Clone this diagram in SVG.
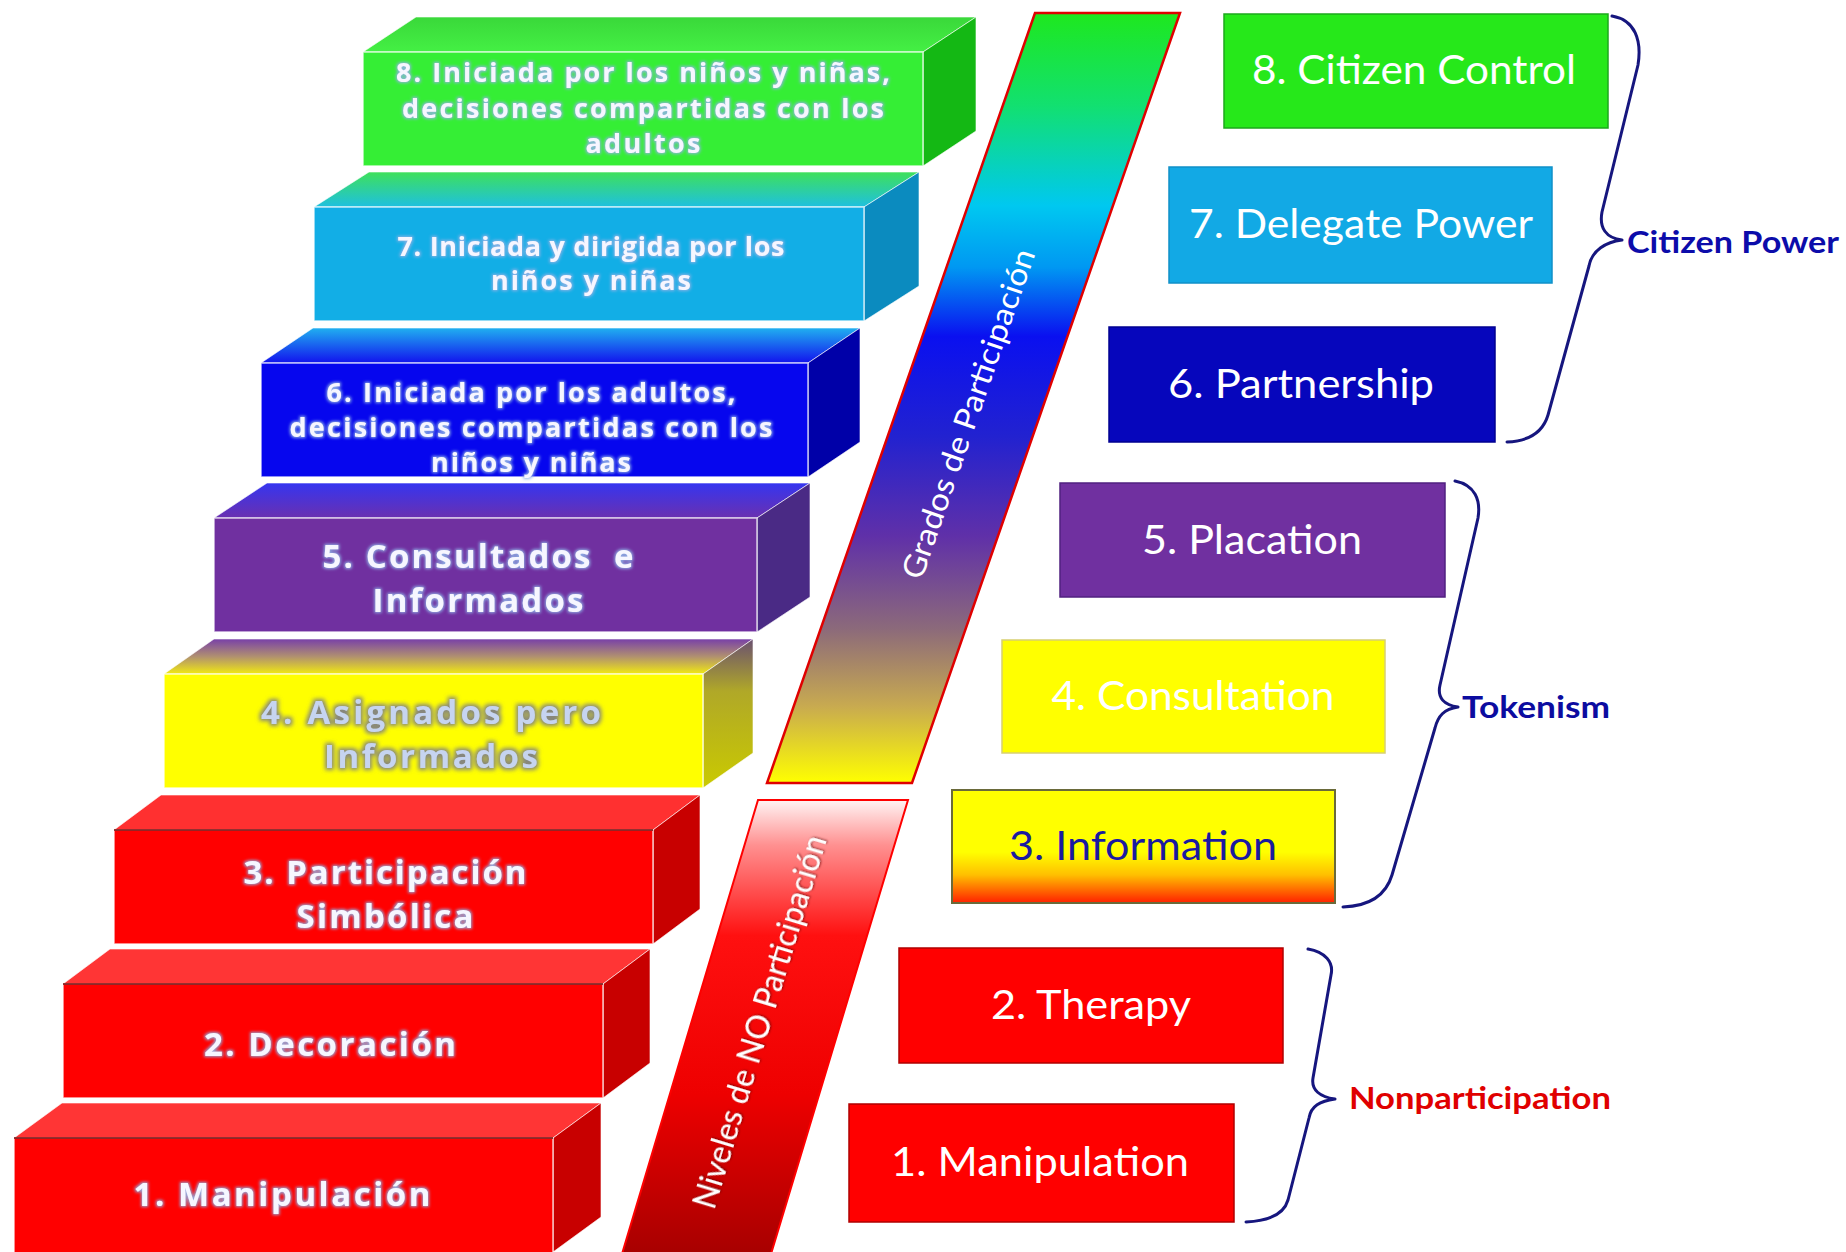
<svg xmlns="http://www.w3.org/2000/svg" width="1846" height="1252" viewBox="0 0 1846 1252">
<defs>
<style>
.st{font-family:"Open Sans",Lato,"Liberation Sans",sans-serif;font-weight:700;fill:#F6F6FF;text-anchor:middle;filter:url(#glow)}
.st8{font-size:27px}
.st5{font-size:33px}
.bt{font-family:Lato,"Open Sans","Liberation Sans",sans-serif;font-size:40px;fill:#FFFFFF;text-anchor:middle}
.lbl{font-family:Lato,"Open Sans","Liberation Sans",sans-serif;font-weight:700;font-size:30px}
.front{stroke:#FFFFFF;stroke-opacity:0.75;stroke-width:1.5}
.edge{stroke:#FFFFFF;stroke-opacity:0.6;stroke-width:1}
.brace{fill:none;stroke:#16167E;stroke-width:3;stroke-linecap:round;stroke-linejoin:round}
.bartxt{font-family:Lato,"Open Sans","Liberation Sans",sans-serif;fill:#FFFFFF;text-anchor:middle}
</style>
<filter id="glow" x="-10%" y="-40%" width="120%" height="180%">
<feMorphology in="SourceAlpha" operator="dilate" radius="1.2" result="d"/>
<feGaussianBlur in="d" stdDeviation="1.6" result="b"/>
<feFlood flood-color="#8FB2E6" flood-opacity="0.95"/>
<feComposite in2="b" operator="in" result="g"/>
<feMerge><feMergeNode in="g"/><feMergeNode in="SourceGraphic"/></feMerge>
</filter>
<filter id="glow4" x="-10%" y="-40%" width="120%" height="180%">
<feMorphology in="SourceAlpha" operator="dilate" radius="1.5" result="d"/>
<feGaussianBlur in="d" stdDeviation="2.2" result="b"/>
<feFlood flood-color="#7A7A8A" flood-opacity="0.9"/>
<feComposite in2="b" operator="in" result="g"/>
<feMerge><feMergeNode in="g"/><feMergeNode in="SourceGraphic"/></feMerge>
</filter>
<filter id="shadow" x="-10%" y="-40%" width="120%" height="180%">
<feGaussianBlur in="SourceAlpha" stdDeviation="1.2" result="b"/>
<feOffset in="b" dx="1" dy="1" result="o"/>
<feFlood flood-color="#600000" flood-opacity="0.7"/>
<feComposite in2="o" operator="in" result="g"/>
<feMerge><feMergeNode in="g"/><feMergeNode in="SourceGraphic"/></feMerge>
</filter>
<linearGradient id="top8" x1="0" y1="0" x2="0" y2="1"><stop offset="0" stop-color="#3AD83A"/><stop offset="1" stop-color="#44F044"/></linearGradient>
<linearGradient id="top7" x1="0" y1="0" x2="0" y2="1"><stop offset="0" stop-color="#3EE05A"/><stop offset="1" stop-color="#1EC0E0"/></linearGradient>
<linearGradient id="top6" x1="0" y1="0" x2="0" y2="1"><stop offset="0" stop-color="#20B0F0"/><stop offset="1" stop-color="#1212EE"/></linearGradient>
<linearGradient id="top5" x1="0" y1="0" x2="0" y2="1"><stop offset="0" stop-color="#3535F0"/><stop offset="1" stop-color="#6A30B0"/></linearGradient>
<linearGradient id="top4" x1="0" y1="0" x2="0" y2="1"><stop offset="0" stop-color="#7840A8"/><stop offset="0.5" stop-color="#B09070"/><stop offset="1" stop-color="#F2EA10"/></linearGradient>
<linearGradient id="side4" x1="0" y1="0" x2="0" y2="1"><stop offset="0" stop-color="#6A5070"/><stop offset="0.35" stop-color="#B0A828"/><stop offset="1" stop-color="#CACA00"/></linearGradient>
<linearGradient id="gUp" gradientUnits="userSpaceOnUse" x1="0" y1="13" x2="0" y2="783">
<stop offset="0" stop-color="#1EE81E"/>
<stop offset="0.12" stop-color="#12E070"/>
<stop offset="0.25" stop-color="#00C8F0"/>
<stop offset="0.33" stop-color="#0098F2"/>
<stop offset="0.42" stop-color="#0A10F0"/>
<stop offset="0.55" stop-color="#2222D0"/>
<stop offset="0.68" stop-color="#6030A8"/>
<stop offset="0.8" stop-color="#8C6A7A"/>
<stop offset="0.9" stop-color="#C8AA50"/>
<stop offset="1" stop-color="#FFFF00"/>
</linearGradient>
<linearGradient id="gLow" gradientUnits="userSpaceOnUse" x1="0" y1="800" x2="0" y2="1252">
<stop offset="0" stop-color="#FFF4F4"/>
<stop offset="0.1" stop-color="#FF9090"/>
<stop offset="0.3" stop-color="#FF1010"/>
<stop offset="0.65" stop-color="#EE0000"/>
<stop offset="1" stop-color="#A80000"/>
</linearGradient>
<linearGradient id="g3" x1="0" y1="0" x2="0" y2="1">
<stop offset="0" stop-color="#FFFF00"/>
<stop offset="0.55" stop-color="#FFFF00"/>
<stop offset="0.75" stop-color="#FFC000"/>
<stop offset="0.9" stop-color="#FF6000"/>
<stop offset="1" stop-color="#FF2000"/>
</linearGradient>
</defs>
<rect width="1846" height="1252" fill="#FFFFFF"/>

<!-- Steps -->
<g id="step8">
<polygon points="363,52 416,17 976,17 923,52" fill="url(#top8)" class="edge"/>
<polygon points="923,52 976,17 976,131 923,166" fill="#14B814" class="edge"/>
<rect x="363" y="52" width="560" height="114" fill="#35EE35" class="front"/>
<text class="st st8" x="643" y="82" textLength="494" lengthAdjust="spacing">8. Iniciada por los niños y niñas,</text>
<text class="st st8" x="643" y="118" textLength="482" lengthAdjust="spacing">decisiones compartidas con los</text>
<text class="st st8" x="643" y="153" textLength="115" lengthAdjust="spacing">adultos</text>
</g>
<g id="step7">
<polygon points="314,207 369,172 919,172 864,207" fill="url(#top7)" class="edge"/>
<polygon points="864,207 919,172 919,286 864,321" fill="#0B8BBF" class="edge"/>
<rect x="314" y="207" width="550" height="114" fill="#12AEE6" class="front"/>
<text class="st st8" x="591" y="256" textLength="387" lengthAdjust="spacing">7. Iniciada y dirigida por los</text>
<text class="st st8" x="591" y="290" textLength="200" lengthAdjust="spacing">niños y niñas</text>
</g>
<g id="step6">
<polygon points="261,363 313,328 860,328 808,363" fill="url(#top6)" class="edge"/>
<polygon points="808,363 860,328 860,442 808,477" fill="#0000A8" class="edge"/>
<rect x="261" y="363" width="547" height="114" fill="#0606EE" class="front"/>
<text class="st st8" x="531" y="402" textLength="409" lengthAdjust="spacing">6. Iniciada por los adultos,</text>
<text class="st st8" x="531" y="437" textLength="483" lengthAdjust="spacing">decisiones compartidas con los</text>
<text class="st st8" x="531" y="472" textLength="200" lengthAdjust="spacing">niños y niñas</text>
</g>
<g id="step5">
<polygon points="214,518 267,483 810,483 757,518" fill="url(#top5)" class="edge"/>
<polygon points="757,518 810,483 810,597 757,632" fill="#4A2A85" class="edge"/>
<rect x="214" y="518" width="543" height="114" fill="#7030A0" class="front"/>
<text class="st st5" x="478" y="568" textLength="311" lengthAdjust="spacing" xml:space="preserve">5. Consultados  e</text>
<text class="st st5" x="478" y="612" textLength="211" lengthAdjust="spacing">Informados</text>
</g>
<g id="step4">
<polygon points="164,674 214,639 753,639 703,674" fill="url(#top4)" class="edge"/>
<polygon points="703,674 753,639 753,753 703,788" fill="url(#side4)" class="edge"/>
<rect x="164" y="674" width="539" height="114" fill="#FFFF00" class="front" stroke="#C8C870"/>
<text class="st st5" x="431" y="724" textLength="340" lengthAdjust="spacing" style="fill:#C6D4F0;filter:url(#glow4)">4. Asignados pero</text>
<text class="st st5" x="431" y="768" textLength="214" lengthAdjust="spacing" style="fill:#C6D4F0;filter:url(#glow4)">Informados</text>
</g>
<g id="step3">
<polygon points="114,830 161,795 700,795 653,830" fill="#FF3030" class="edge"/>
<polygon points="653,830 700,795 700,909 653,944" fill="#C80000" class="edge"/>
<rect x="114" y="830" width="539" height="114" fill="#FF0000" class="front"/>
<line x1="114" y1="830" x2="653" y2="830" stroke="#700000" stroke-width="1.5"/>
<text class="st st5" x="385" y="884" textLength="283" lengthAdjust="spacing">3. Participación</text>
<text class="st st5" x="385" y="928" textLength="177" lengthAdjust="spacing">Simbólica</text>
</g>
<g id="step2">
<polygon points="63,984 110,949 650,949 603,984" fill="#FF3535" class="edge"/>
<polygon points="603,984 650,949 650,1063 603,1098" fill="#C80000" class="edge"/>
<rect x="63" y="984" width="540" height="114" fill="#FF0000" class="front"/>
<line x1="63" y1="984" x2="603" y2="984" stroke="#700000" stroke-width="1.5"/>
<text class="st st5" x="330" y="1056" textLength="252" lengthAdjust="spacing">2. Decoración</text>
</g>
<g id="step1">
<polygon points="14,1138 62,1103 601,1103 553,1138" fill="#FF3535" class="edge"/>
<polygon points="553,1138 601,1103 601,1217 553,1252" fill="#C80000" class="edge"/>
<rect x="14" y="1138" width="539" height="116" fill="#FF0000" class="front"/>
<line x1="14" y1="1138" x2="553" y2="1138" stroke="#700000" stroke-width="1.5"/>
<text class="st st5" x="282" y="1206" textLength="297" lengthAdjust="spacing">1. Manipulación</text>
</g>

<!-- Central bars -->
<g id="bar-grados">
<polygon points="1035,13 1180,13 912,783 767,783" fill="url(#gUp)" stroke="#E00000" stroke-width="2.5" stroke-linejoin="miter"/>
<text class="bartxt" transform="translate(969,414) rotate(-70.8)" x="0" y="10" font-size="31" textLength="347" lengthAdjust="spacingAndGlyphs">Grados de Participación</text>
</g>
<g id="bar-niveles">
<polygon points="758,800 908,800 771,1254 622,1254" fill="url(#gLow)" stroke="#FF0000" stroke-width="2"/>
<text class="bartxt" transform="translate(760,1022) rotate(-73.1)" x="0" y="11" font-size="32" textLength="388" lengthAdjust="spacingAndGlyphs" filter="url(#shadow)">Niveles de NO Participación</text>
</g>

<!-- Right boxes -->
<g id="box8">
<rect x="1224" y="14" width="384" height="114" fill="#26E81A" stroke="#1CA81C" stroke-width="1.5"/>
<text class="bt" x="1414" y="84" textLength="324" lengthAdjust="spacingAndGlyphs">8. Citizen Control</text>
</g>
<g id="box7">
<rect x="1169" y="167" width="383" height="116" fill="#12A9E5" stroke="#1090C8" stroke-width="1.5"/>
<text class="bt" x="1361" y="238" textLength="344" lengthAdjust="spacingAndGlyphs">7. Delegate Power</text>
</g>
<g id="box6">
<rect x="1109" y="327" width="386" height="115" fill="#0606BC" stroke="#000090" stroke-width="1.5"/>
<text class="bt" x="1301" y="398" textLength="266" lengthAdjust="spacingAndGlyphs">6. Partnership</text>
</g>
<g id="box5">
<rect x="1060" y="483" width="385" height="114" fill="#7030A0" stroke="#502080" stroke-width="1.5"/>
<text class="bt" x="1252" y="554" textLength="220" lengthAdjust="spacingAndGlyphs">5. Placation</text>
</g>
<g id="box4">
<rect x="1002" y="640" width="383" height="113" fill="#FFFF00" stroke="#D8D070" stroke-width="1.5"/>
<text class="bt" x="1193" y="710" textLength="283" lengthAdjust="spacingAndGlyphs">4. Consultation</text>
</g>
<g id="box3">
<rect x="952" y="790" width="383" height="113" fill="url(#g3)" stroke="#6A6A3A" stroke-width="2"/>
<text class="bt" x="1143" y="860" textLength="268" lengthAdjust="spacingAndGlyphs" style="fill:#1A1AA0">3. Information</text>
</g>
<g id="box2">
<rect x="899" y="948" width="384" height="115" fill="#FF0000" stroke="#B00000" stroke-width="1.5"/>
<text class="bt" x="1091" y="1019" textLength="200" lengthAdjust="spacingAndGlyphs">2. Therapy</text>
</g>
<g id="box1">
<rect x="849" y="1104" width="385" height="118" fill="#FF0000" stroke="#B00000" stroke-width="1.5"/>
<text class="bt" x="1040" y="1176" textLength="298" lengthAdjust="spacingAndGlyphs">1. Manipulation</text>
</g>

<!-- Braces -->
<g id="connectors">
<path class="brace" d="M1612,16 C1635,20 1642,40 1638,65 L1602,212 C1599,228 1606,238 1622,240 C1606,242 1592,250 1589,266 L1548,415 C1543,432 1530,441 1507,442"/>
<path class="brace" d="M1455,481 C1475,485 1481,500 1478,518 L1440,685 C1437,698 1444,705 1458,707 C1444,709 1438,716 1435,728 L1392,875 C1386,895 1370,906 1343,907"/>
<path class="brace" d="M1308,949 C1325,952 1334,962 1331,975 L1313,1078 C1311,1090 1320,1097 1335,1099 C1320,1101 1311,1106 1309,1118 L1288,1200 C1284,1214 1268,1221 1246,1222"/>
</g>
<g id="label-citizen-power"><text class="lbl" x="1627" y="253" fill="#0C0CAA" textLength="212" lengthAdjust="spacingAndGlyphs">Citizen Power</text></g>
<g id="label-tokenism"><text class="lbl" x="1462" y="718" fill="#0C0CA0" textLength="148" lengthAdjust="spacingAndGlyphs">Tokenism</text></g>
<g id="label-nonparticipation"><text class="lbl" x="1349" y="1109" fill="#E00000" textLength="262" lengthAdjust="spacingAndGlyphs">Nonparticipation</text></g>
</svg>
